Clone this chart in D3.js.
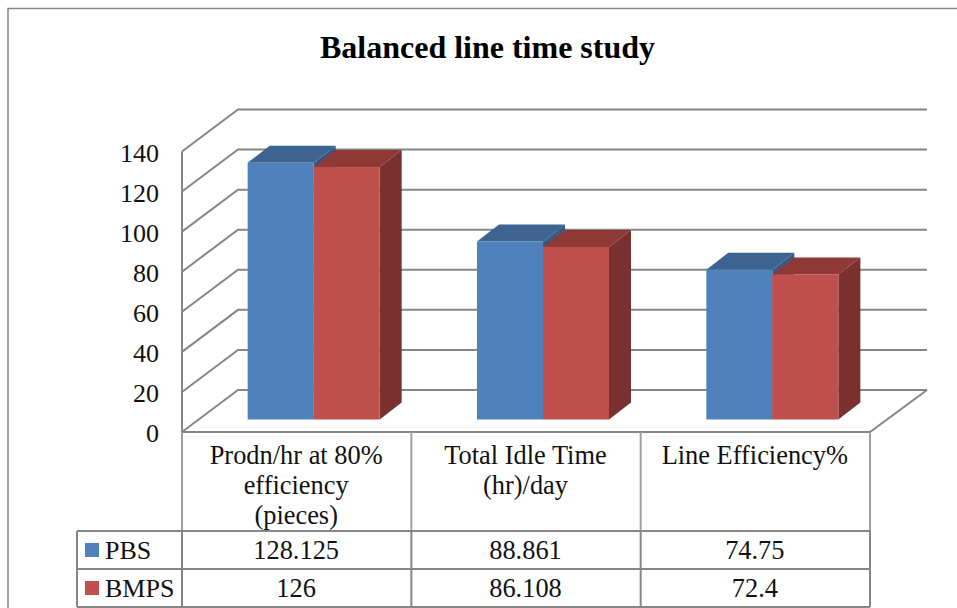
<!doctype html>
<html>
<head>
	<style>
body { margin: 0; background: #fff; }
svg { display: block; font-family: "Liberation Serif", serif; fill: #000; }
.grid, .table-line { fill: none; stroke: #868686; stroke-width: 2px; }
.cat-line { stroke: #a0a0a0; }
.tick-labels .domain, .tick-labels line { display: none; }
.tick-labels text { font-family: "Liberation Serif", serif; font-size: 26px; fill: #111; }
.cell { font-size: 26.4px; fill: #111; text-anchor: middle; }
.legend-label { font-size: 26px; fill: #111; }
	</style>
</head>
<body>

	<div id="root"></div>

	<script src="https://d3js.org/d3.v7.min.js"></script>
	<script>

	var categories = ['Prodn/hr at 80%|efficiency|(pieces)', 'Total Idle Time|(hr)/day', 'Line Efficiency%'];
	var seriesNames = ['PBS', 'BMPS'];
	var pbs = [128.125, 88.861, 74.75];
	var bmps = [126, 86.108, 72.4];
	var yTicks = [0, 20, 40, 60, 80, 100, 120, 140];

	var seriesValues = [pbs, bmps];
	var colors = [
		{front: '#4f81bd', top: '#3d6391', side: '#375a85'},
		{front: '#c0504d', top: '#8f3937', side: '#7a302e'}
	];

	var width = 957, height = 608;

	// plot front plane and the shift to the back wall
	var left = 182, right = 870, floorY = 432, topY = 151.5;
	var wallX = 56, wallY = 42;
	// bars stand a bit in from the front edge, and have a smaller depth
	var inX = 17, inY = 12.5, depthX = 22, depthY = 17;

	var svg = d3.select('#root').append('svg')
		.attr('width', width)
		.attr('height', height);

	var x = d3.scaleBand().domain(d3.range(categories.length)).range([left, right]);
	var y = d3.scaleLinear().domain([0, 140]).range([floorY, topY]);
	var inner = d3.scaleBand().domain(d3.range(seriesNames.length))
		.range([0, x.bandwidth()])
		.paddingOuter(0.737).paddingInner(0);

	// chart border, open at right and bottom
	svg.append('path')
		.attr('d', 'M8,' + height + 'V8.5H' + width)
		.attr('fill', 'none')
		.attr('stroke', '#868686')
		.attr('stroke-width', 1.5);

	svg.append('text')
		.attr('x', 487.5)
		.attr('y', 58)
		.attr('text-anchor', 'middle')
		.style('font-size', '32px')
		.style('font-weight', 'bold')
		.text('Balanced line time study');

	// walls
	var g = svg.append('g');

	g.selectAll('.grid')
		.data(yTicks)
		.enter().append('path')
			.attr('class', 'grid')
			.attr('d', function(d){
				return 'M' + left + ',' + y(d)
					+ 'L' + (left + wallX) + ',' + (y(d) - wallY)
					+ 'H' + (right + wallX + 1);
			});

	g.append('path')
		.attr('class', 'grid')
		.attr('d', 'M' + left + ',' + y(140) + 'V' + floorY + 'H' + right
			+ 'L' + (right + wallX + 1) + ',' + (floorY - wallY));

	// bars
	var bars = g.selectAll('.series')
		.data(seriesValues)
		.enter().append('g')
			.attr('class', 'series');

	bars.each(function(values, s){
		var group = d3.select(this);
		values.forEach(function(v, c){
			var x0 = x(c) + inner(s) + inX;
			var x1 = x0 + inner.bandwidth();
			var y0 = floorY - inY;
			var y1 = y(v) - inY;

			group.append('path')
				.attr('fill', colors[s].side)
				.attr('d', 'M' + x1 + ',' + y1 + 'L' + (x1 + depthX) + ',' + (y1 - depthY)
					+ 'V' + (y0 - depthY) + 'L' + x1 + ',' + y0 + 'Z');
			group.append('path')
				.attr('fill', colors[s].top)
				.attr('d', 'M' + x0 + ',' + y1 + 'L' + (x0 + depthX) + ',' + (y1 - depthY)
					+ 'H' + (x1 + depthX) + 'L' + x1 + ',' + y1 + 'Z');
			group.append('rect')
				.attr('fill', colors[s].front)
				.attr('x', x0)
				.attr('y', y1)
				.attr('width', x1 - x0)
				.attr('height', y0 - y1);
		});
	});

	// value axis labels
	svg.append('g')
		.attr('class', 'tick-labels')
		.attr('transform', 'translate(' + (left - 23) + ',1.5)')
		.call(d3.axisLeft(y).tickValues(yTicks).tickSize(0).tickPadding(0));

	// data table under the plot
	var rowTop = 531, rowH = 38, tableLeft = 77;
	var rowY = d3.scaleBand().domain(d3.range(seriesNames.length)).range([rowTop, rowTop + rowH * 2]);
	var edges = x.domain().map(function(c){ return x(c); }).concat([right]);

	g.selectAll('.cat-line')
		.data(edges)
		.enter().append('line')
			.attr('class', 'table-line cat-line')
			.attr('x1', function(d){ return d; })
			.attr('x2', function(d){ return d; })
			.attr('y1', floorY)
			.attr('y2', rowTop);

	g.selectAll('.row-edge')
		.data(edges)
		.enter().append('line')
			.attr('class', 'table-line row-edge')
			.attr('x1', function(d){ return d; })
			.attr('x2', function(d){ return d; })
			.attr('y1', rowTop)
			.attr('y2', rowTop + rowH * 2);

	g.selectAll('.row-line')
		.data([0, 1, 2])
		.enter().append('line')
			.attr('class', 'table-line row-line')
			.attr('x1', tableLeft)
			.attr('x2', right)
			.attr('y1', function(d){ return rowTop + rowH * d; })
			.attr('y2', function(d){ return rowTop + rowH * d; });

	g.append('line')
		.attr('class', 'table-line')
		.attr('x1', tableLeft)
		.attr('x2', tableLeft)
		.attr('y1', rowTop)
		.attr('y2', rowTop + rowH * 2);

	categories.forEach(function(label, c){
		label.split('|').forEach(function(line, i){
			svg.append('text')
				.attr('class', 'cell')
				.attr('x', x(c) + x.bandwidth() / 2 - 0.5)
				.attr('y', 464 + i * 30)
				.text(line);
		});
	});

	seriesNames.forEach(function(name, s){
		var mid = rowY(s) + rowY.bandwidth() / 2;
		svg.append('rect')
			.attr('x', 85)
			.attr('y', mid - 7)
			.attr('width', 14)
			.attr('height', 14)
			.attr('fill', colors[s].front);
		svg.append('text')
			.attr('class', 'legend-label')
			.attr('x', 105)
			.attr('y', mid + 8.5)
			.text(name);
		seriesValues[s].forEach(function(v, c){
			svg.append('text')
				.attr('class', 'cell')
				.attr('x', x(c) + x.bandwidth() / 2 - 0.5)
				.attr('y', mid + 8.5)
				.text(v);
		});
	});

	</script>
</body>
</html>
